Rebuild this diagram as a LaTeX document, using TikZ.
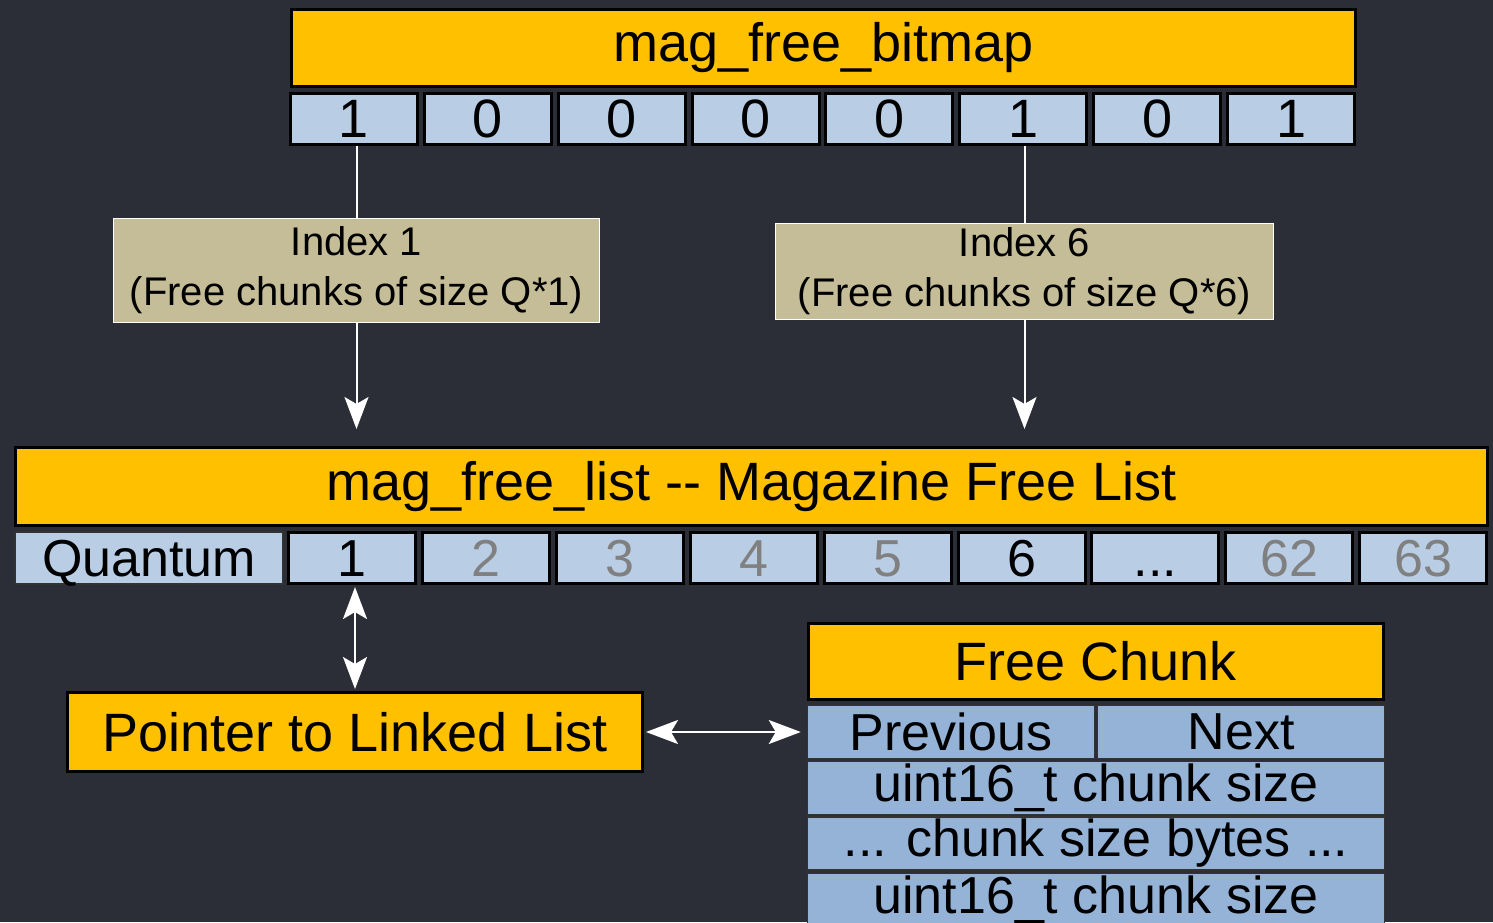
\documentclass[tikz,border=0pt]{standalone}
\usepackage{fontspec}
\setmainfont{Liberation Sans}
\usetikzlibrary{arrows.meta}
\definecolor{bgc}{HTML}{2B2E36}
\definecolor{yel}{HTML}{FFC000}
\definecolor{lblue}{HTML}{B9CDE5}
\definecolor{mblue}{HTML}{95B3D7}
\definecolor{tan}{HTML}{C4BD97}
\definecolor{gtext}{HTML}{808080}
\newcommand\mydots{...}
\begin{document}
\begin{tikzpicture}[x=1pt,y=-1pt,
  hdr/.style={draw=black, line width=3pt, fill=yel, inner sep=0pt, font=\fontsize{54}{60}\selectfont},
  bit/.style={draw=black, line width=3pt, fill=lblue, minimum width=127pt, minimum height=51pt, inner sep=0pt, font=\fontsize{54}{60}\selectfont},
  qcell/.style={draw=black, line width=3pt, fill=lblue, minimum width=127pt, minimum height=51pt, inner sep=0pt, text height=37pt, text depth=0pt, font=\fontsize{52}{60}\selectfont},
  dim/.style={text=gtext},
  nodim/.style={},
  qlabel/.style={draw=black!80, line width=1.5pt, fill=lblue, minimum width=268pt, minimum height=52pt, inner sep=0pt, text height=37pt, text depth=0pt, font=\fontsize{52}{60}\selectfont},
  idx/.style={draw=white, line width=1pt, fill=tan, inner sep=0pt, align=center, font=\fontsize{40}{50}\selectfont},
  row/.style={draw=black!80, line width=1.5pt, fill=mblue, minimum height=53pt, inner sep=0pt, font=\fontsize{52}{60}\selectfont},
  wline/.style={draw=white, line width=2pt},
  tip/.tip={Stealth[length=32pt,width=24pt,inset=7pt]},
  arr/.style={wline, -tip},
  darr/.style={wline, tip-tip}
]
\clip (0,0) rectangle (1493,922);
\fill[bgc] (0,0) rectangle (1493,922);

% bitmap
\node[hdr, minimum width=1064pt, minimum height=77pt] (bm) at (823.5,48) {mag\_free\_bitmap};
\foreach \i/\v in {1/1,2/0,3/0,4/0,5/0,6/1,7/0,8/1}{
  \node[bit] (b\i) at ({354+(\i-1)*133.86},119) {\v};
}

% index boxes
\node[idx, minimum width=486pt, minimum height=104pt] (idx1) at (356.5,270.5) {Index 1\\(Free chunks of size Q*1)};
\node[idx, minimum width=498pt, minimum height=96pt] (idx6) at (1024.5,271.5) {Index 6\\(Free chunks of size Q*6)};

% free list
\node[hdr, minimum width=1472pt, minimum height=78pt] (fl) at (751.5,486.5) {mag\_free\_list -{}- Magazine Free List};
\node[qlabel] (ql) at (149,558) {Quantum};
\foreach \i/\v/\s in {1/1/nodim,2/2/dim,3/3/dim,4/4/dim,5/5/dim,6/6/nodim,7/\mydots/nodim,8/62/dim,9/63/dim}{
  \node[qcell,\s] (q\i) at ({352+(\i-1)*133.9},558) {\v};
}

% pointer
\node[hdr, minimum width=575pt, minimum height=79pt] (ptr) at (355,732) {Pointer to Linked List};

% free chunk
\node[hdr, minimum width=575pt, minimum height=76pt] (fc) at (1096,661.5) {Free Chunk};
\node[row, minimum width=287pt] (prev) at (951,732) {Previous};
\node[row, minimum width=287pt] (next) at (1241,732) {Next};
\node[row, minimum width=577pt] (sz1) at (1096,788) {uint16\_t chunk size};
\node[row, minimum width=577pt] (bytes) at (1096,843.5) {... chunk size bytes ...};
\node[row, minimum width=577pt] (sz2) at (1096,900) {uint16\_t chunk size};

% connectors
\draw[wline] (idx1.north |- b1.south) -- (idx1.north);
\draw[arr, shorten >=17pt] (idx1.south) -- (idx1.south |- fl.north);
\draw[wline] (idx6.north |- b6.south) -- (idx6.north);
\draw[arr, shorten >=17pt] (idx6.south) -- (idx6.south |- fl.north);
\draw[darr, shorten <=2pt, shorten >=2pt] (ptr.north |- q1.south) -- (ptr.north);
\draw[darr, shorten <=2pt, shorten >=6pt] (ptr.east) -- (prev.west);
\end{tikzpicture}
\end{document}
